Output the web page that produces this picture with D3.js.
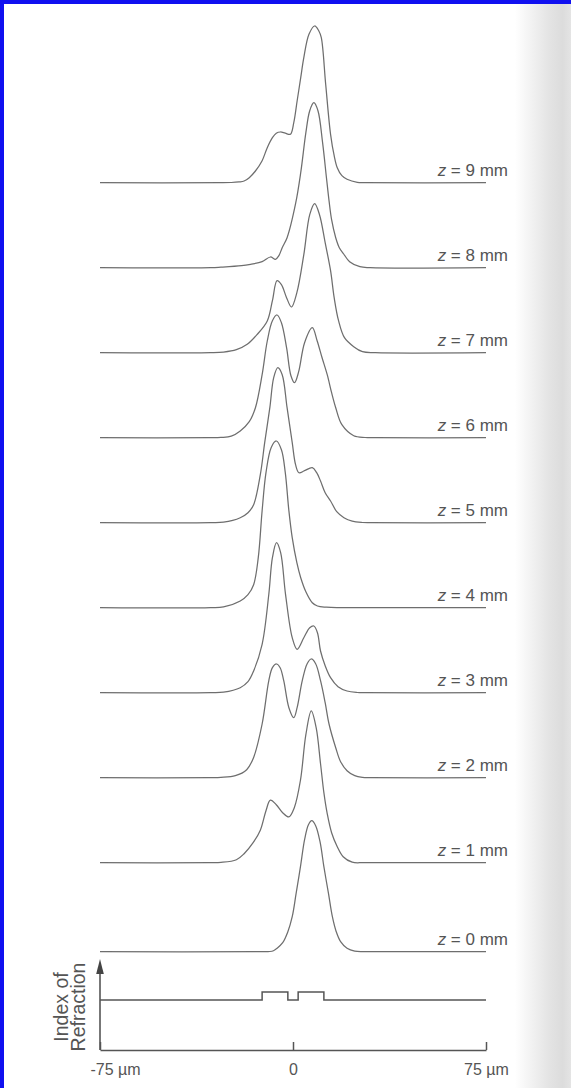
<!DOCTYPE html>
<html>
<head>
<meta charset="utf-8">
<script src="https://cdn.jsdelivr.net/npm/d3@7.9.0/dist/d3.min.js"></script>
<style>
  body { margin: 0; background: #fff; }
  svg { display: block; font-family: 'Liberation Sans', Arial, sans-serif; }
</style>
</head>
<body>
<svg id="chart" width="571" height="1088"></svg>
<script>
// beam profiles: [position in µm, intensity]
const z0 = [[-75,0],[-12,0],[-9,0.2],[-7.6,1],[-6.2,3.4],[-4,9],[-2,20],[-0.3,35],[1.2,58],[2.9,85],[4.5,112],[6,127],[7.3,131],[8.8,126],[10.5,110],[12,85],[13.8,58],[15.3,35],[16.8,20],[18.5,10],[21,3.4],[24,0.5],[27,0],[30,0],[75,0]];
const z1 = [[-75,0],[-32,0],[-28,0.3],[-22,3],[-19,9],[-15.5,20],[-12.7,32.5],[-10.5,52],[-8.8,62.5],[-6.5,58],[-4,50],[-1.6,45.8],[0.5,55],[2.9,82.5],[5,128],[7.1,151.8],[9,135],[10.7,99],[12,70],[13.3,49],[15,30],[17.2,16],[19.5,6],[23,0.5],[27,0],[30,0],[75,0]];
const z2 = [[-75,0],[-32,0],[-28,0.3],[-22.4,2],[-18,8],[-15.3,20.3],[-12,53.7],[-9.4,97],[-8,110],[-6.4,113.7],[-5,110],[-3.6,97],[-1.6,70],[0.3,60],[1.6,70],[3.6,97],[5.5,114],[7.1,118.7],[8.8,114],[10.7,97],[12.5,75],[14,53.7],[16.6,30],[18.5,16],[21,7],[24,2],[27,0.3],[30,0],[75,0]];
const z3 = [[-75,0],[-32,0],[-27,0.5],[-20.5,5],[-17.5,11],[-15.3,21.7],[-12,48.4],[-9.4,98.4],[-8,135],[-6.4,150],[-4.8,140],[-2.9,98.4],[-0.3,55],[1.6,43.4],[4.2,55],[6.5,65],[8.1,66.7],[9.5,60],[10.7,41.7],[12.5,27],[14.6,15],[17.5,6],[21,1.7],[25,0.2],[28,0],[75,0]];
const z4 = [[-75,0],[-32,0],[-27,0.8],[-20.5,6.7],[-17.5,13],[-15.3,23],[-13.5,50],[-12,97],[-10.5,135],[-8.5,160],[-6.5,166.7],[-4.5,158],[-3,135],[-1.6,97],[-0.3,70],[1.5,45],[3,30],[5,16],[7.5,5],[9.5,1.7],[13,0.5],[17,0],[20,0],[75,0]];
const z5 = [[-75,0],[-32,0],[-27,0.5],[-20.5,5],[-17.5,10],[-15.3,18],[-12.7,48],[-11,80],[-9,115],[-7.5,145],[-5.9,155],[-4.2,148],[-2.3,115],[-0.3,80],[1,58],[2.3,50],[4.5,52],[7.5,55],[9.2,50],[10.7,41.7],[12.5,30],[14.6,21.7],[17,11],[19.8,5],[23,1.5],[27,0.2],[30,0],[75,0]];
const z6 = [[-75,0],[-32,0],[-28,0.3],[-24,1.5],[-20.5,6.7],[-17,16],[-14.6,30],[-12,63],[-10,96.7],[-8,117],[-6.2,122.7],[-4.5,115],[-2.5,90],[-0.8,62],[0.6,55],[2.2,66],[4.5,95],[7.5,110],[9.4,96.7],[11.3,80],[13.3,63],[15,45],[16.6,30],[19,13],[23.6,2],[28,0.2],[32,0],[75,0]];
const z7 = [[-75,0],[-32,0],[-27,0.6],[-22,3],[-17.8,8.4],[-14,18],[-10,31.7],[-8,52],[-6.2,72],[-4.5,68],[-2.5,55],[-0.6,45.7],[1.5,60],[4.2,98],[6.5,138],[8.4,149],[10.3,138],[12.5,110],[14.6,82],[16,55],[17.7,32],[20,15],[23.6,6],[27,1],[32,0],[75,0]];
const z8 = [[-75,0],[-32,0],[-28,0.5],[-20,2],[-16.5,3.4],[-12,6],[-8.8,10.7],[-6.8,8.4],[-5.5,12],[-4.2,20],[-2.3,30],[1,64],[3,95],[5,135],[6.5,157],[8.1,165],[9.7,157],[11.5,125],[13,90],[14,67],[15,48],[16.6,30],[18,20],[19.7,13.7],[22,6],[26,1],[30,0],[75,0]];
const z9 = [[-75,0],[-28,0],[-24,0.2],[-21,0.8],[-19,1.7],[-17,5],[-14.6,11.7],[-12,22],[-10,35],[-8,45],[-6.5,49.5],[-4.9,50.7],[-3,49.5],[-1,48.4],[0.3,60],[1.6,81.7],[3,105],[4.2,125],[6.2,148.4],[8.4,156.7],[10,152],[11,145],[12.7,98.4],[14.6,48.4],[16,27],[17.2,15],[19,7],[21,3.4],[25,0.3],[28,0],[75,0]];

const profiles = [z0, z1, z2, z3, z4, z5, z6, z7, z8, z9];
const zValues = [0, 1, 2, 3, 4, 5, 6, 7, 8, 9];

// refractive index profile (two ridges)
const indexPos = [-75, -12, -12, -2, -2, 2, 2, 12, 12, 75];
const indexLevel = [0, 0, 1, 1, 0, 0, 1, 1, 0, 0];

const xTicks = [-75, 0, 75];
const xTickLabels = ['-75 µm', '0', '75 µm'];
const yLabelLines = ['Index of', 'Refraction'];

const svg = d3.select('#chart');
const ink = '#6e6e6e';
const textInk = '#555';

// scan shadow on right edge
const defs = svg.append('defs');
const grad = defs.append('linearGradient').attr('id', 'shade')
  .attr('x1', 0).attr('x2', 1).attr('y1', 0).attr('y2', 0);
grad.append('stop').attr('offset', '0%').attr('stop-color', '#fff');
grad.append('stop').attr('offset', '60%').attr('stop-color', '#e4e4e4');
grad.append('stop').attr('offset', '85%').attr('stop-color', '#dcdcdc');
grad.append('stop').attr('offset', '100%').attr('stop-color', '#e4e4e4');
svg.append('rect').attr('x', 515).attr('y', 0).attr('width', 56).attr('height', 1088)
  .attr('fill', 'url(#shade)');

const x = d3.scaleLinear().domain([-75, 75]).range([100, 486]);
// the bottom row sits a little further down than the even spacing above it
const row = d3.scaleLinear().domain([0, 1, 9]).range([951.7, 862.7, 182.7]);
const amp = d3.scaleLinear().domain([0, 170]).range([0, 170]);

profiles.forEach((pts, i) => {
  const base = row(zValues[i]);
  const line = d3.line()
    .x(d => x(d[0]))
    .y(d => Math.min(base, base - amp(d[1])))
    .curve(d3.curveCatmullRom.alpha(0.5));

  svg.append('path')
    .attr('d', line(pts))
    .attr('fill', 'none')
    .attr('stroke', ink)
    .attr('stroke-width', 1.25);

  const label = svg.append('text')
    .attr('x', 508)
    .attr('y', base - 6.5)
    .attr('text-anchor', 'end')
    .attr('font-size', 17)
    .attr('fill', textInk);
  label.append('tspan').attr('font-style', 'italic').text('z');
  label.append('tspan').text(` = ${zValues[i]} mm`);
});

// bottom panel: index of refraction
const axisY = 1050;
const yIdx = d3.scaleLinear().domain([0, 1]).range([1000, 992]);

const idxLine = d3.line()
  .x((d, i) => x(indexPos[i]))
  .y(d => yIdx(d));
svg.append('path')
  .attr('d', idxLine(indexLevel))
  .attr('fill', 'none')
  .attr('stroke', '#555')
  .attr('stroke-width', 1.5);

const axis = d3.axisBottom(x)
  .tickValues(xTicks)
  .tickSizeInner(-8)
  .tickSizeOuter(0)
  .tickFormat((d, i) => xTickLabels[i]);

const gAxis = svg.append('g')
  .attr('transform', `translate(0,${axisY})`)
  .call(axis);
gAxis.select('.domain').attr('stroke', '#555').attr('stroke-width', 1.6);
gAxis.selectAll('.tick line').attr('stroke', '#555').attr('stroke-width', 1.5);
gAxis.selectAll('.tick text')
  .attr('y', 14)
  .attr('font-size', 16)
  .attr('font-family', "'Liberation Sans', Arial, sans-serif")
  .attr('fill', textInk)
  .attr('dx', (d, i) => (i === 0 ? 15 : 0));

// vertical arrow
svg.append('line')
  .attr('x1', x(-75)).attr('x2', x(-75))
  .attr('y1', axisY).attr('y2', 972)
  .attr('stroke', '#555').attr('stroke-width', 1.6);
svg.append('path')
  .attr('d', `M${x(-75)},959 L${x(-75) - 3.8},974 L${x(-75) + 3.8},974 Z`)
  .attr('fill', '#444');

yLabelLines.forEach((t, i) => {
  svg.append('text')
    .attr('transform', `translate(${68 + i * 17},1007) rotate(-90)`)
    .attr('text-anchor', 'middle')
    .attr('font-size', 19.5)
    .attr('fill', textInk)
    .text(t);
});

// blue frame (top and left edges)
svg.append('rect').attr('x', 0).attr('y', 0).attr('width', 571).attr('height', 4).attr('fill', '#1010f0');
svg.append('rect').attr('x', 0).attr('y', 0).attr('width', 4).attr('height', 1088).attr('fill', '#1010f0');
</script>
</body>
</html>
